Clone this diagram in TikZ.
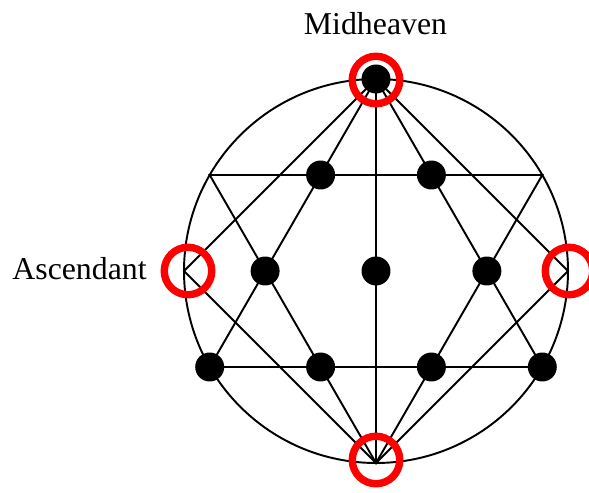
\documentclass[tikz,border=0pt]{standalone}
\usepackage{fontspec}
\setmainfont{Liberation Serif}
\usetikzlibrary{positioning}

\begin{document}
\begin{tikzpicture}[x=0.02cm, y=-0.02cm, line cap=round,
    every node/.style={font=\fontsize{18.1}{20}\selectfont},
    dot/.style={circle, fill=black, inner sep=0pt, minimum size=0.58cm},
    ring/.style={circle, draw=red, line width=4.2pt, inner sep=0pt, minimum size=0.95cm}]
  \useasboundingbox (0,0) rectangle (589,493);
  % points on the circle
  \coordinate (o)  at (376,271);
  \coordinate (T)  at (376,79);
  \coordinate (B)  at (376,463);
  \coordinate (L)  at (184,271);
  \coordinate (R)  at (568,271);
  \coordinate (TL) at (209.7,175);
  \coordinate (TR) at (542.3,175);
  \coordinate (BL) at (209.7,367);
  \coordinate (BR) at (542.3,367);
  \draw[line width=1.1pt] (o) circle[radius=192];
  \draw[line width=1.1pt] (T)--(BL)--(BR)--cycle;
  \draw[line width=1.1pt] (B)--(TL)--(TR)--cycle;
  \draw[line width=1.1pt] (T)--(L)--(B)--(R)--cycle;
  \draw[line width=1.1pt] (T)--(B);
  % dots
  \node[dot] (top) at (T) {};
  \node[dot] (u1) at (320.6,175) {};
  \node[dot] (u2) at (431.4,175) {};
  \node[dot] (m1) at (265.1,271) {};
  \node[dot] (ctr) at (o) {};
  \node[dot] (m2) at (486.9,271) {};
  \node[dot] (bl) at (BL) {};
  \node[dot] (d1) at (320.6,367) {};
  \node[dot] (d2) at (431.4,367) {};
  \node[dot] (br) at (BR) {};
  % angles
  \node[ring] (mc)  at (376,80)  {};
  \node[ring] (asc) at (188,271) {};
  \node[ring] (dsc) at (569,271) {};
  \node[ring] (ic)  at (376,460) {};
  \node[anchor=base] (mclab) at (375.5,35) {Midheaven};
  \node[anchor=base east, inner sep=0pt] (asclab) at (147,280) {Ascendant};
\end{tikzpicture}
\end{document}
